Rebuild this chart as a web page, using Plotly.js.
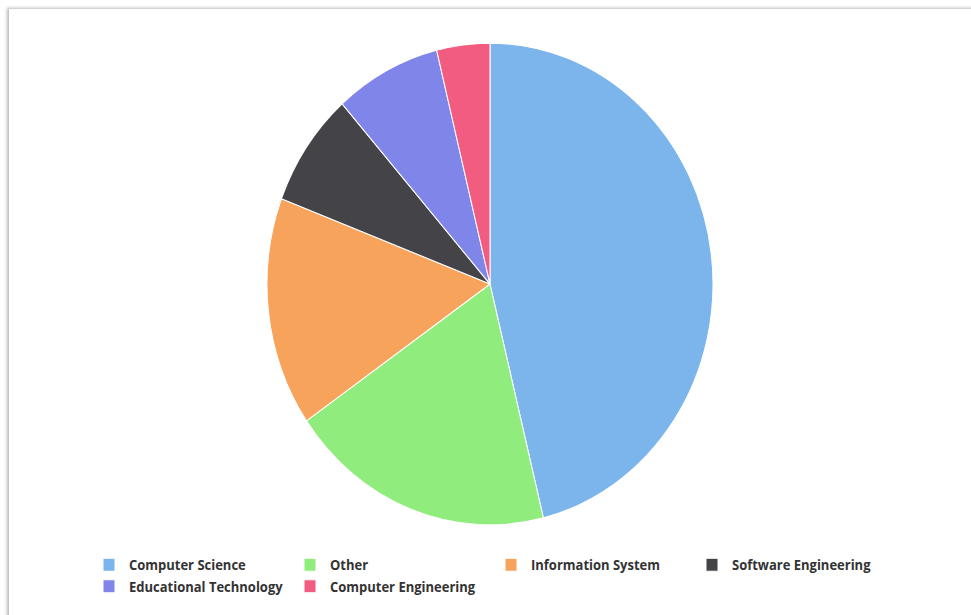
<!DOCTYPE html>
<html>
<head>
<meta charset="utf-8">
<script src="https://cdn.plot.ly/plotly-3.0.1.min.js"></script>
<style>
  html, body { margin: 0; padding: 0; background: #ffffff; width: 971px; height: 615px; overflow: hidden; }
  #card { position: absolute; left: 9px; top: 9px; width: 1000px; height: 640px; background: #ffffff;
          box-shadow: -2px -1px 3px rgba(0,0,0,0.28); }
  #wrap { position: absolute; left: 0; top: 0; width: 971px; height: 569px; transform: scaleY(1.08); transform-origin: 0 0; }
  #chart { width: 971px; height: 569px; }
</style>
</head>
<body>
<div id="card"></div>
<div id="wrap"><div id="chart"></div></div>
<script>
const categories = ["Computer Science", "Other", "Information System", "Software Engineering", "Educational Technology", "Computer Engineering"];
const counts = [12, 5, 4, 2, 2, 1];
const sliceColors = ["#7cb5ec", "#90ed7d", "#f7a35c", "#434348", "#8085e9", "#f15c80"];

const W = 971, H = 569;
const cx = 490, cy = 263, r = 223;

const trace = {
  type: "pie",
  labels: categories,
  values: counts,
  sort: false,
  direction: "clockwise",
  rotation: 0,
  textinfo: "none",
  hoverinfo: "label+value+percent",
  marker: { colors: sliceColors, line: { color: "#ffffff", width: 1 } },
  domain: { x: [(cx - r) / W, (cx + r) / W], y: [1 - (cy + r) / H, 1 - (cy - r) / H] }
};

const layout = {
  width: W,
  height: H,
  margin: { l: 0, r: 0, t: 0, b: 0 },
  paper_bgcolor: "rgba(0,0,0,0)",
  plot_bgcolor: "rgba(0,0,0,0)",
  showlegend: true,
  legend: {
    orientation: "h",
    x: 89 / W,
    xanchor: "left",
    y: 1 - 508 / H,
    yanchor: "top",
    entrywidth: 156,
    entrywidthmode: "pixels",
    traceorder: "normal",
    font: { family: "Open Sans, DejaVu Sans, sans-serif", size: 13, color: "#333333", weight: "bold" },
    bgcolor: "rgba(0,0,0,0)"
  }
};

Plotly.newPlot("chart", [trace], layout, { displayModeBar: false, staticPlot: false });
</script>
</body>
</html>
